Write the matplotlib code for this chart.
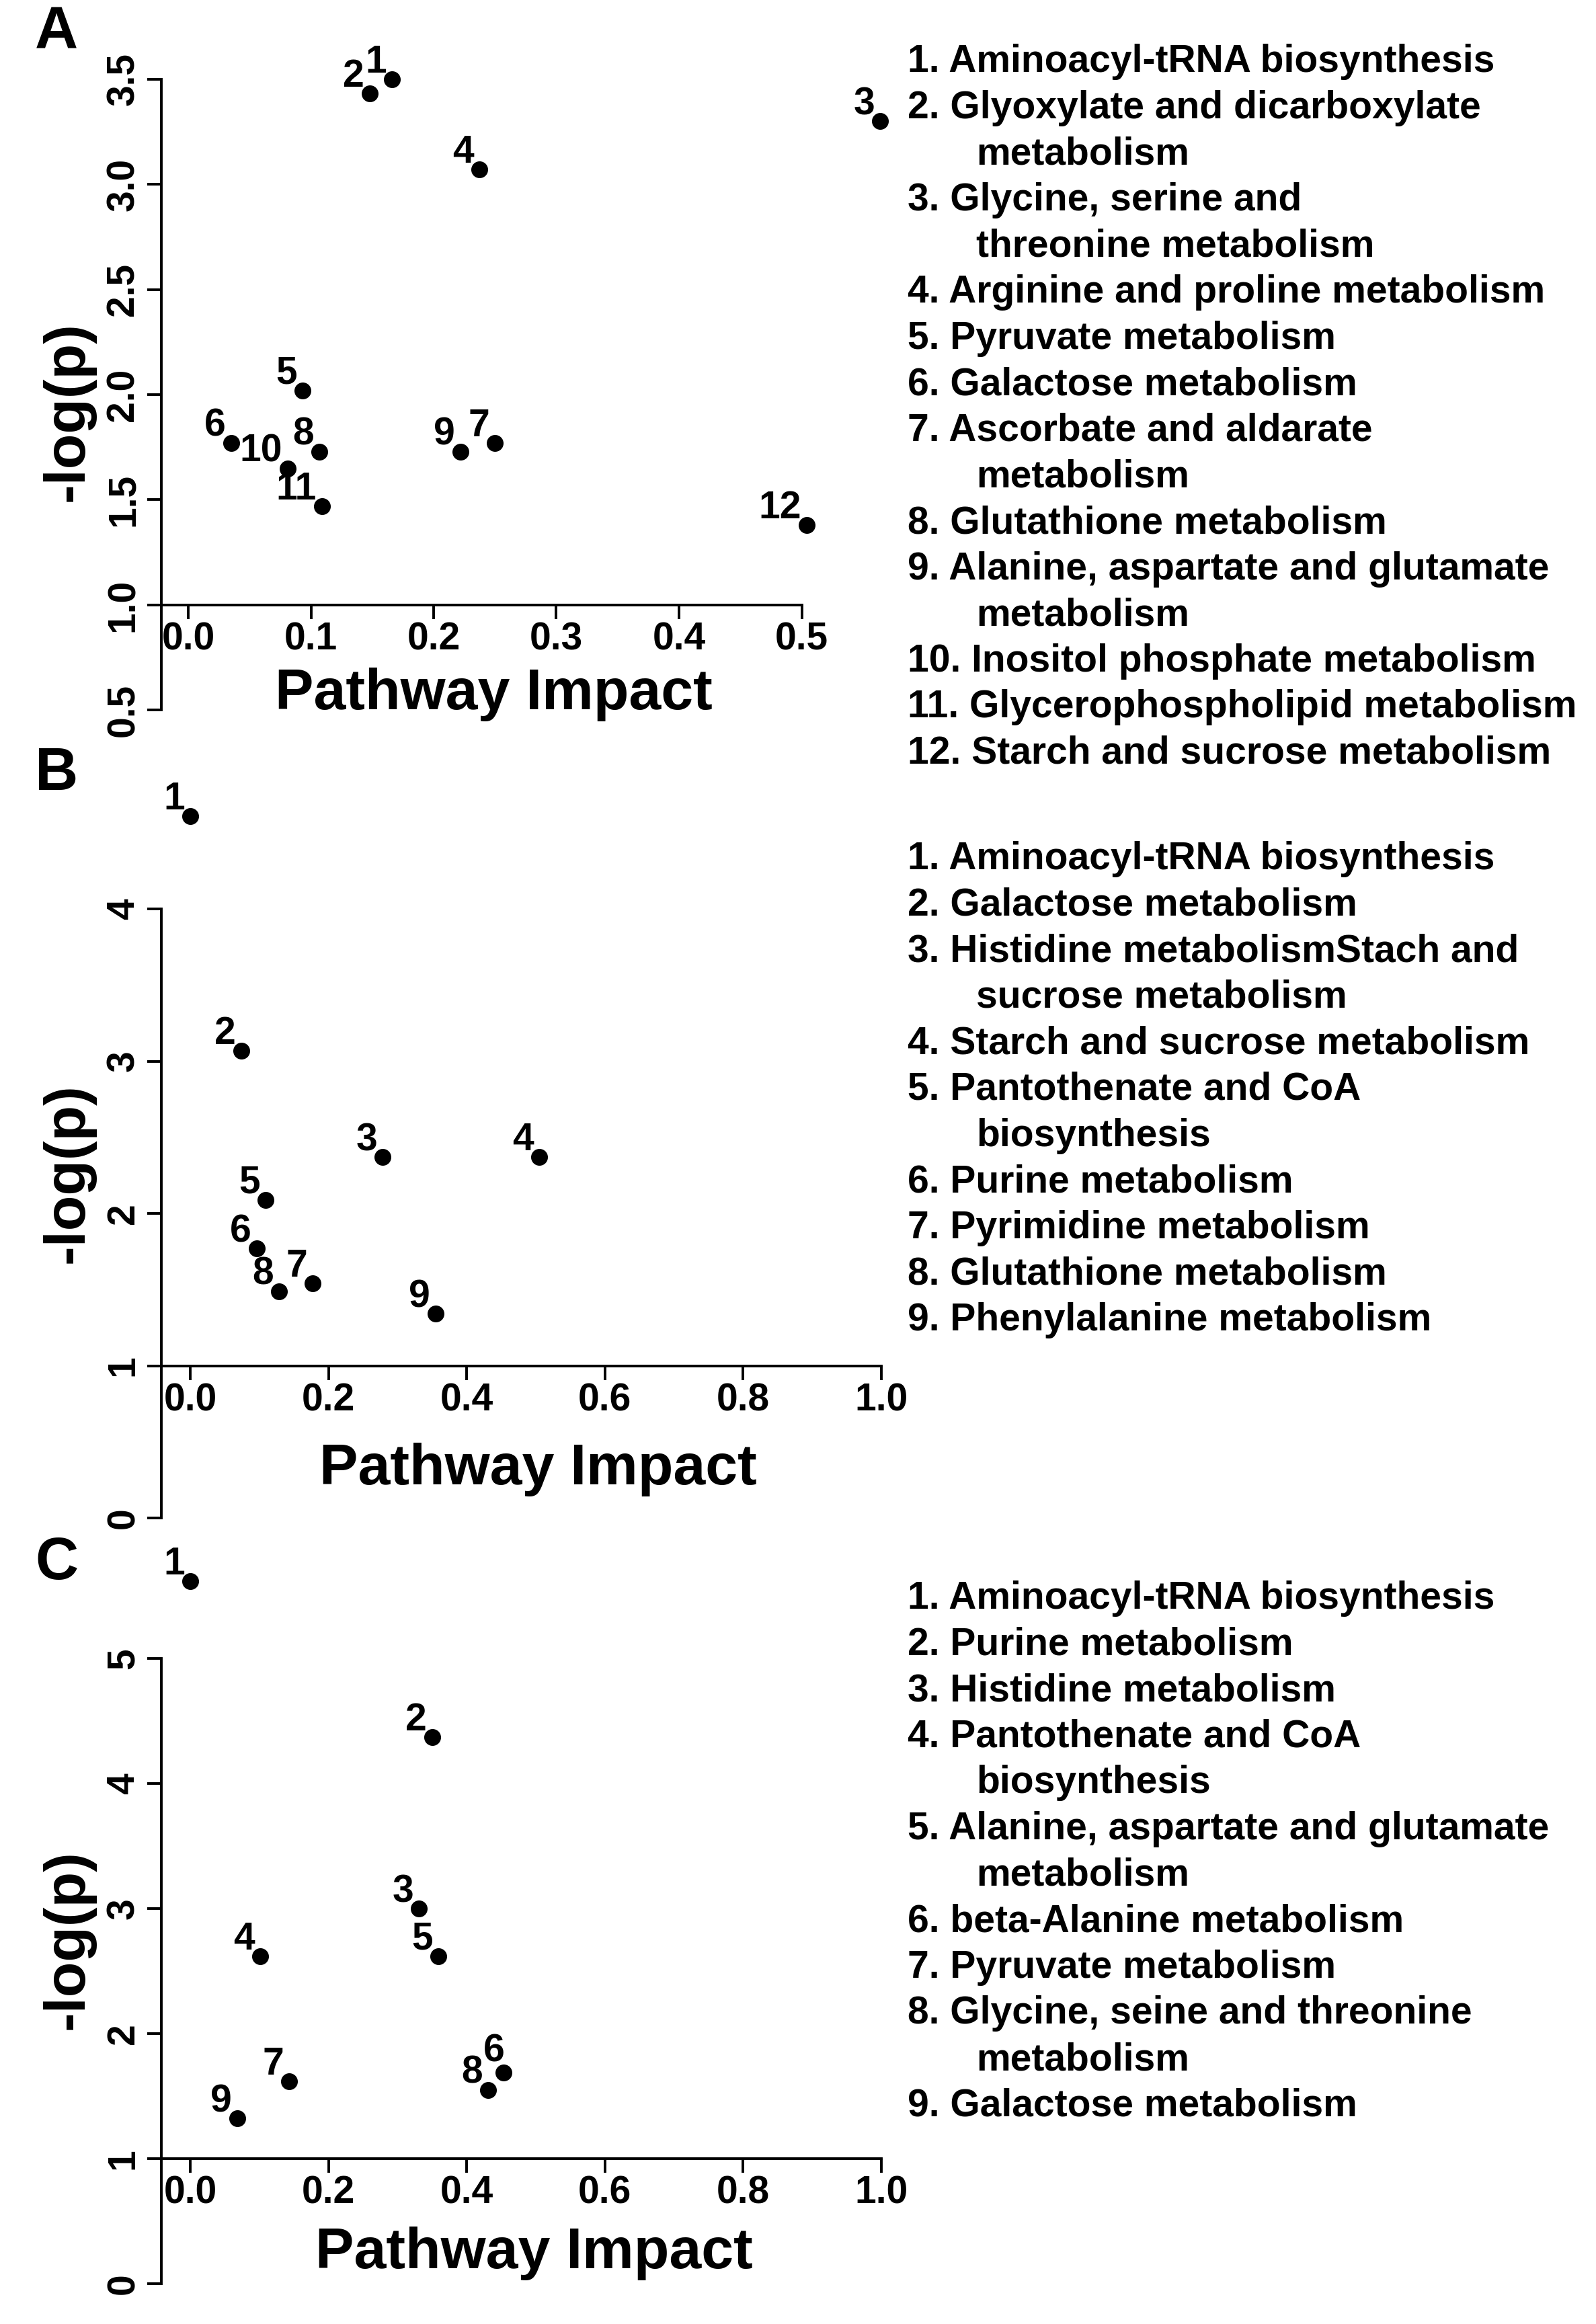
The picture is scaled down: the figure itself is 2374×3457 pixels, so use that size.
import matplotlib
matplotlib.use("Agg")
import matplotlib.pyplot as plt

plt.rcParams['font.family'] = ['Liberation Sans', 'DejaVu Sans']
plt.rcParams['font.weight'] = 'bold'

# ---- data ----
a_impact = [0.166, 0.148, 0.564, 0.237, 0.093, 0.035, 0.250, 0.107, 0.222, 0.081, 0.109, 0.504]
a_logp = [3.50, 3.43, 3.30, 3.07, 2.02, 1.77, 1.77, 1.73, 1.73, 1.65, 1.47, 1.38]
a_names = ["Aminoacyl-tRNA biosynthesis",
           "Glyoxylate and dicarboxylate\nmetabolism",
           "Glycine, serine and\nthreonine metabolism",
           "Arginine and proline metabolism",
           "Pyruvate metabolism",
           "Galactose metabolism",
           "Ascorbate and aldarate\nmetabolism",
           "Glutathione metabolism",
           "Alanine, aspartate and glutamate\nmetabolism",
           "Inositol phosphate metabolism",
           "Glycerophospholipid metabolism",
           "Starch and sucrose metabolism"]

b_impact = [0.0, 0.074, 0.278, 0.505, 0.109, 0.096, 0.177, 0.128, 0.355]
b_logp = [4.61, 3.07, 2.37, 2.37, 2.09, 1.77, 1.54, 1.49, 1.34]
b_names = ["Aminoacyl-tRNA biosynthesis",
           "Galactose metabolism",
           "Histidine metabolismStach and\nsucrose metabolism",
           "Starch and sucrose metabolism",
           "Pantothenate and CoA\nbiosynthesis",
           "Purine metabolism",
           "Pyrimidine metabolism",
           "Glutathione metabolism",
           "Phenylalanine metabolism"]

c_impact = [0.0, 0.350, 0.331, 0.101, 0.359, 0.453, 0.143, 0.431, 0.068]
c_logp = [5.62, 4.37, 3.00, 2.62, 2.62, 1.69, 1.62, 1.55, 1.32]
c_names = ["Aminoacyl-tRNA biosynthesis",
           "Purine metabolism",
           "Histidine metabolism",
           "Pantothenate and CoA\nbiosynthesis",
           "Alanine, aspartate and glutamate\nmetabolism",
           "beta-Alanine metabolism",
           "Pyruvate metabolism",
           "Glycine, seine and threonine\nmetabolism",
           "Galactose metabolism"]

a_xticks = [0.0, 0.1, 0.2, 0.3, 0.4, 0.5]
a_yticks = [0.5, 1.0, 1.5, 2.0, 2.5, 3.0, 3.5]
bc_xticks = [0.0, 0.2, 0.4, 0.6, 0.8, 1.0]
b_yticks = [0, 1, 2, 3, 4]
c_yticks = [0, 1, 2, 3, 4, 5]

W, H = 2374, 3457
fig = plt.figure(figsize=(W / 100, H / 100), dpi=100)

panels = [
    dict(letter="A", x=a_impact, y=a_logp, names=a_names,
         xticks=a_xticks, yticks=a_yticks, xfmt="%.1f", yfmt="%.1f",
         x0px=280, xscale=1825, y1px=900, yscale=313,
         xlim=(-0.0219, 0.6), ylim=(0.5, 3.7), nudge={},
         letter_y=50, xlab=(734, 1055), ylab_y=612, legend_y=92),
    dict(letter="B", x=b_impact, y=b_logp, names=b_names,
         xticks=bc_xticks, yticks=b_yticks, xfmt="%.1f", yfmt="%d",
         x0px=283, xscale=1028, y1px=2031.5, yscale=226.5,
         xlim=(-0.0418, 1.04), ylim=(0, 4.8), nudge={},
         letter_y=1152, xlab=(800, 2208), ylab_y=1745, legend_y=1278),
    dict(letter="C", x=c_impact, y=c_logp, names=c_names,
         xticks=bc_xticks, yticks=c_yticks, xfmt="%.1f", yfmt="%d",
         x0px=283, xscale=1028, y1px=3211, yscale=186,
         xlim=(-0.0418, 1.04), ylim=(0, 5.8), nudge={6: (2, 16)},
         letter_y=2326, xlab=(794, 3374), ylab_y=2885, legend_y=2378),
]

lw = 2.8
tick_fs = 41
line_step = 68.6

for p in panels:
    left = p["x0px"] + p["xlim"][0] * p["xscale"]
    right = p["x0px"] + p["xlim"][1] * p["xscale"]
    top = p["y1px"] - (p["ylim"][1] - 1) * p["yscale"]
    bottom = p["y1px"] - (p["ylim"][0] - 1) * p["yscale"]
    ax = fig.add_axes([left / W, 1 - bottom / H, (right - left) / W, (bottom - top) / H])
    ax.set_xlim(*p["xlim"])
    ax.set_ylim(*p["ylim"])

    # R-style detached axes
    for s in ["top", "right"]:
        ax.spines[s].set_visible(False)
    ax.spines["left"].set_linewidth(lw)
    ax.spines["left"].set_bounds(p["yticks"][0], p["yticks"][-1])
    ax.spines["bottom"].set_linewidth(lw)
    ax.spines["bottom"].set_position(("data", 1.0))
    ax.spines["bottom"].set_bounds(p["xlim"][0], p["xticks"][-1])

    ax.set_xticks(p["xticks"])
    ax.set_xticklabels([p["xfmt"] % v for v in p["xticks"]], fontsize=tick_fs)
    ax.set_yticks(p["yticks"])
    ax.set_yticklabels([p["yfmt"] % v for v in p["yticks"]], fontsize=tick_fs,
                       rotation=90, va="center")
    ax.tick_params(axis="both", direction="out", length=15, width=lw)
    ax.tick_params(axis="x", pad=3)
    ax.tick_params(axis="y", pad=6)

    ax.plot(p["x"], p["y"], "o", color="black", markersize=17,
            linestyle="none", clip_on=False)
    for i, (xv, yv) in enumerate(zip(p["x"], p["y"])):
        off = p["nudge"].get(i + 1, (-8, 10))
        ax.annotate(str(i + 1), (xv, yv), xytext=off, textcoords="offset pixels",
                    ha="right", va="baseline", fontsize=tick_fs, annotation_clip=False)

    # letters and axis titles
    fig.text(84 / W, 1 - p["letter_y"] / H, p["letter"], fontsize=64,
             ha="center", va="center")
    fig.text(p["xlab"][0] / W, 1 - p["xlab"][1] / H, "Pathway Impact", fontsize=62,
             ha="center", va="baseline")
    fig.text(102 / W, 1 - p["ylab_y"] / H, "-log(p)", fontsize=62, rotation=90,
             ha="center", va="center")

    # numbered pathway list
    row = 0
    for i, name in enumerate(p["names"]):
        parts = name.split("\n")
        for j, part in enumerate(parts):
            ypx = p["legend_y"] + row * line_step
            if j == 0:
                fig.text(1350 / W, 1 - ypx / H, "%d. %s" % (i + 1, part),
                         fontsize=41, ha="left", va="center")
            else:
                fig.text(1452 / W, 1 - ypx / H, part, fontsize=41,
                         ha="left", va="center")
            row += 1

fig.savefig("out.png", dpi=100, facecolor="white")
